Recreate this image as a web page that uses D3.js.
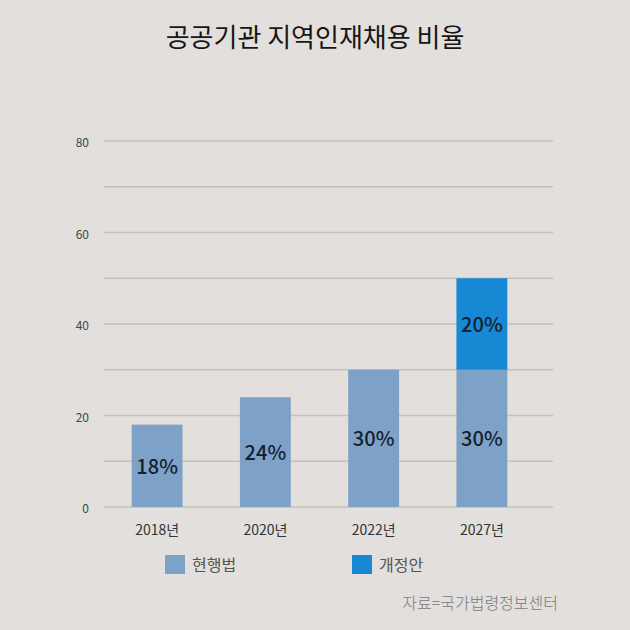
<!DOCTYPE html>
<html>
<head>
<meta charset="utf-8">
<script src="https://cdn.jsdelivr.net/npm/d3@7"></script>
<style>
  body { margin: 0; background: #e2dfdc; }
  svg { display: block; }
</style>
</head>
<body>
<svg width="630" height="630"></svg>
<script>
const years = ["2018년", "2020년", "2022년", "2027년"];
const currentLaw = [18, 24, 30, 30];
const amendment = [0, 0, 0, 20];
const seriesNames = ["현행법", "개정안"];
const yTicks = [0, 20, 40, 60, 80];
const gridValues = [0, 10, 20, 30, 40, 50, 60, 70, 80];

const svg = d3.select("svg"),
    width = +svg.attr("width"),
    height = +svg.attr("height");

const font = "'Noto Sans CJK KR', 'Noto Sans', sans-serif";
const colors = ["#7ea2c7", "#1788d4"];

svg.append("rect").attr("width", width).attr("height", height).attr("fill", "#e2dfdc");

// scales
const x = d3.scaleBand().domain(years).range([103, 536]).paddingInner(0.53).paddingOuter(0.265);
const y = d3.scaleLinear().domain([0, 80]).range([507, 141]);

// title
svg.append("text")
    .attr("x", 315).attr("y", 47)
    .attr("text-anchor", "middle")
    .attr("font-family", font).attr("font-size", 26)
    .attr("fill", "#161616")
    .text("공공기관 지역인재채용 비율");

// gridlines
svg.append("g")
    .selectAll("line")
    .data(gridValues)
    .enter().append("line")
    .attr("x1", 104).attr("x2", 553)
    .attr("y1", d => y(d)).attr("y2", d => y(d))
    .attr("stroke", "#c3c0bd")
    .attr("stroke-width", 1.4);

// y tick labels
svg.append("g")
    .selectAll("text")
    .data(yTicks)
    .enter().append("text")
    .attr("x", 89).attr("y", d => y(d) + 6)
    .attr("text-anchor", "end")
    .attr("font-family", font).attr("font-size", 12)
    .attr("fill", "#444")
    .text(d => d);

// stacked data
const rows = years.map((yr, i) => ({ year: yr, "현행법": currentLaw[i], "개정안": amendment[i] }));
const stacked = d3.stack().keys(seriesNames)(rows);

const layer = svg.append("g")
    .selectAll("g")
    .data(stacked)
    .enter().append("g")
    .attr("fill", (d, i) => colors[i]);

layer.selectAll("rect")
    .data(d => d.filter(s => s[1] > s[0]))
    .enter().append("rect")
    .attr("x", d => x(d.data.year))
    .attr("width", x.bandwidth())
    .attr("y", d => y(d[1]))
    .attr("height", d => y(d[0]) - y(d[1]));

layer.selectAll("text")
    .data(d => d.filter(s => s[1] > s[0]))
    .enter().append("text")
    .attr("x", d => x(d.data.year) + x.bandwidth() / 2)
    .attr("y", d => y((d[0] + d[1]) / 2) + 8)
    .attr("text-anchor", "middle")
    .attr("font-family", font).attr("font-size", 20).attr("font-weight", 500)
    .attr("fill", "#15202e")
    .text(d => (d[1] - d[0]) + "%");

// x labels
svg.append("g")
    .selectAll("text")
    .data(years)
    .enter().append("text")
    .attr("x", d => x(d) + x.bandwidth() / 2)
    .attr("y", 535)
    .attr("text-anchor", "middle")
    .attr("font-family", font).attr("font-size", 14)
    .attr("fill", "#333")
    .text(d => d);

// legend
const legendX = [165, 352];
const legend = svg.append("g")
    .selectAll("g")
    .data(seriesNames)
    .enter().append("g")
    .attr("transform", (d, i) => `translate(${legendX[i]},555)`);

legend.append("rect")
    .attr("width", 20).attr("height", 19)
    .attr("fill", (d, i) => colors[i]);

legend.append("text")
    .attr("x", 27).attr("y", 16)
    .attr("font-family", font).attr("font-size", 16)
    .attr("fill", "#555")
    .text(d => d);

// source
svg.append("text")
    .attr("x", 558).attr("y", 609)
    .attr("text-anchor", "end")
    .attr("font-family", font).attr("font-size", 16).attr("font-weight", 300)
    .attr("fill", "#7a7a7a")
    .text("자료=국가법령정보센터");
</script>
</body>
</html>
